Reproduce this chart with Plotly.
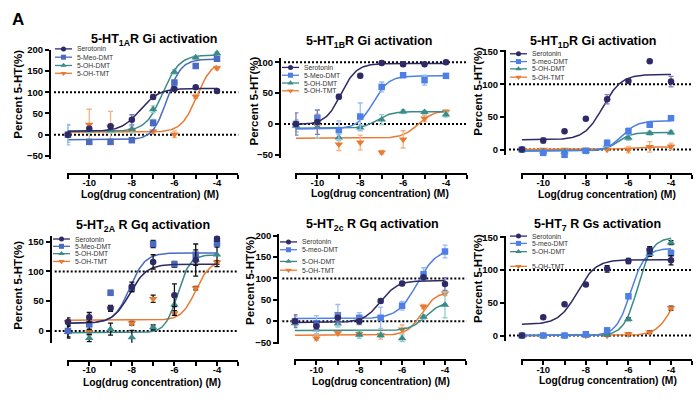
import numpy as np
import plotly.graph_objects as go

W, H = 700, 399
FONT = "Liberation Sans, Arial, sans-serif"

LOG_X = [-11, -10, -9, -8, -7, -6, -5, -4]
X_TICKS = [-10, -8, -6, -4]
X_TICK_LABELS = ["-10", "-8", "-6", "-4"]
X_MINOR_TICKS = [-11, -9, -7, -5, -3]

TITLES = [
    "5-HT<sub>1A</sub>R Gi activation",
    "5-HT<sub>1B</sub>R Gi activation",
    "5-HT<sub>1D</sub>R Gi activation",
    "5-HT<sub>2A</sub> R Gq activation",
    "5-HT<sub>2c</sub> R Gq activation",
    "5-HT<sub>7</sub> R Gs activation",
]
LEGEND_NAMES_A = ["Serotonin", "5-Meo-DMT", "5-OH-DMT", "5-OH-TMT"]
LEGEND_NAMES_B = ["Serotonin", "5-meo-DMT", "5-OH-DMT", "5-OH-TMT"]

# ---- values (% of 5-HT) at LOG_X, order: Serotonin, 5-MeO-DMT, 5-OH-DMT, 5-OH-TMT
P1_VAL = [[0, 14, 20, 35, 89, 108, 112, 103],
          [0, -17, -17, -13, 28, 123, 162, 179],
          [2, 10, 10, 13, 60, 148, 182, 192],
          [0, 24, 18, 10, 8, 1, 90, 157]]
P1_ERR = [[5, 5, 4, 12, 5, 3, 3, 3],
          [24, 5, 3, 4, 8, 5, 4, 3],
          [20, 6, 5, 8, 8, 5, 4, 3],
          [5, 36, 37, 5, 4, 8, 5, 4]]
P1_FIT = [[8, 109, -7.6, 1.0], [-12, 178, -6.35, 1.3], [8, 188, -6.55, 1.1], [6, 175, -4.95, 1.2]]

P2_VAL = [[0, 3, 44, 78, 99, 97, 97, 100],
          [0, 10, -10, 12, 60, 79, 71, 78],
          [-3, -5, -22, -6, 7, 20, 19, 15],
          [-2, -3, -33, -30, -46, -25, 9, 20]]
P2_ERR = [[18, 20, 4, 3, 3, 3, 3, 3],
          [3, 12, 15, 22, 8, 3, 8, 3],
          [10, 18, 5, 5, 8, 3, 3, 4],
          [5, 19, 10, 12, 3, 14, 5, 3]]
P2_FIT = [[-1, 98, -8.9, 1.2], [-8, 78, -7.4, 1.2], [-7, 20, -7.2, 1.3], [-23, 22, -5.3, 1.2]]

P3_VAL = [[0, 14, 28, 47, 77, 105, 135, 104],
          [0, -5, -8, -2, 10, 28, 38, 48],
          [0, -3, -3, -2, 7, 18, 25, 26],
          [0, 0, 0, 0, 0, 0, 4, 5]]
P3_ERR = [[2, 4, 2, 2, 7, 3, 2, 8],
          [2, 2, 3, 2, 5, 5, 3, 3],
          [2, 2, 2, 2, 3, 4, 3, 3],
          [1, 1, 1, 1, 1, 5, 8, 5]]
P3_FIT = [[15, 115, -7.2, 1.0], [-2, 44, -6.3, 1.2], [-2, 26, -6.5, 1.4], [0, 4, -6.0, 1.0]]

P4_VAL = [[15, 23, 38, 74, 116, 60, 119, 155],
          [0, 11, 64, 72, 146, 112, 128, 147],
          [-2, -12, 3, -11, 6, 44, 120, 128],
          [15, -2, 38, 13, 54, 30, 72, 115]]
P4_ERR = [[7, 8, 5, 8, 12, 19, 27, 4],
          [10, 8, 4, 6, 6, 5, 8, 6],
          [10, 6, 10, 12, 4, 18, 10, 20],
          [3, 4, 3, 3, 6, 4, 3, 3]]
P4_FIT = [[13, 112, -8.1, 1.1], [13, 131, -8.1, 1.2], [-3, 128, -5.85, 1.5], [18, 118, -5.0, 1.3]]

P5_VAL = [[0, -12, 8, 0, 47, 88, 103, 87],
          [0, -5, 14, 8, 8, 36, 110, 163],
          [-5, -19, -6, -32, -33, -40, 10, 38],
          [-3, -40, -28, -30, -32, -19, 34, 65]]
P5_ERR = [[15, 8, 10, 8, 5, 5, 3, 15],
          [12, 18, 25, 12, 25, 10, 15, 15],
          [5, 10, 8, 8, 5, 8, 5, 30],
          [5, 5, 5, 5, 10, 10, 5, 5]]
P5_FIT = [[-3, 95, -7.0, 1.1], [6, 170, -5.3, 0.95], [-22, 45, -4.9, 1.2], [-33, 68, -5.1, 1.3]]

P6_VAL = [[0, 28, 48, 78, 102, 114, 131, 115],
          [0, 0, 0, 2, 8, 60, 129, 126],
          [0, 0, 0, 0, 1, 25, 125, 142],
          [0, 0, 0, 0, 0, 2, 5, 42]]
P6_ERR = [[1, 2, 2, 2, 5, 4, 5, 7],
          [1, 1, 1, 1, 2, 3, 4, 4],
          [1, 1, 1, 1, 1, 2, 4, 3],
          [1, 1, 1, 1, 1, 2, 2, 3]]
P6_FIT = [[17, 116, -8.4, 1.0], [0, 133, -5.9, 1.3], [0, 150, -5.55, 1.3], [0, 100, -3.84, 1.1]]

Y_TICKS = [[-50, 0, 50, 100, 150, 200], [-50, 0, 50, 100], [0, 50, 100, 150],
           [0, 50, 100, 150], [-50, 0, 50, 100, 150, 200], [0, 50, 100, 150]]
Y_RANGES = [[-57, 200], [-55, 107], [-9, 152], [-20, 159], [-53, 203], [-8, 152]]

# ---- styling / layout (pixels)
NAVY = "#2e2a66"
BLUE_A = "#4a6bbf"
BLUE_B = "#4d7fe6"
TEAL = "#3a8a88"
ORANGE = "#e97a30"
LIGHT = ["#807cb5", "#9dbdf0", "#93cfcb", "#f3b386"]
DARK_ERR = "#111111"
SYMBOLS = ["circle", "square", "triangle-up", "triangle-down"]

GEOM = [  # xdom px, ytop px, ybot px, yaxis x px, xaxis y px
    dict(xd=(66.9, 238.3), yt=45.0, yb=156.8, ya=50.0, xa=172.0),
    dict(xd=(294.9, 467.4), yt=53.3, yb=155.8, ya=280.0, xa=172.0),
    dict(xd=(520.9, 692.3), yt=45.3, yb=153.3, ya=505.0, xa=172.0),
    dict(xd=(66.9, 238.3), yt=236.2, yb=345.5, ya=50.7, xa=364.0),
    dict(xd=(293.9, 466.4), yt=234.3, yb=346.5, ya=278.3, xa=363.5),
    dict(xd=(520.9, 692.3), yt=236.0, yb=343.4, ya=505.0, xa=363.5),
]
TITLE_POS = [(154, 35), (369, 37), (593, 37), (143, 226), (373, 225), (597, 225)]
YTITLE_POS = [(18, 91), (254, 98), (478, 88), (18, 287), (250, 282), (478, 280)]
XTITLE_POS = [(150, 193.5), (380, 192.5), (607, 193.5), (152, 386), (381, 385), (608, 384.5)]
LEGEND_POS = [  # line x start, rows y
    (55, [44, 52.5, 61, 69]),
    (282, [63, 71, 79, 87]),
    (510, [49, 57, 64.5, 73]),
    (53, [239, 246.5, 254, 262]),
    (280, [242, 250, 262, 271]),
    (510, [236, 243.5, 252, 267]),
]

PANELS = [
    (P1_VAL, P1_ERR, P1_FIT, BLUE_A, LEGEND_NAMES_A, True),
    (P2_VAL, P2_ERR, P2_FIT, BLUE_B, LEGEND_NAMES_A, True),
    (P3_VAL, P3_ERR, P3_FIT, BLUE_B, LEGEND_NAMES_B, True),
    (P4_VAL, P4_ERR, P4_FIT, BLUE_A, LEGEND_NAMES_A, False),
    (P5_VAL, P5_ERR, P5_FIT, BLUE_B, LEGEND_NAMES_B, True),
    (P6_VAL, P6_ERR, P6_FIT, BLUE_B, LEGEND_NAMES_B, False),
]


def four_pl(x, p):
    bottom, top, logec50, hill = p
    return bottom + (top - bottom) / (1 + 10 ** (hill * (logec50 - x)))


def fx(p):
    return p / W


def fy(p):
    return 1 - p / H


fig = go.Figure()
layout = dict(
    width=W, height=H, margin=dict(l=0, r=0, t=0, b=0),
    paper_bgcolor="white", plot_bgcolor="rgba(0,0,0,0)",
    showlegend=False, font=dict(family=FONT, color="black"),
)
annotations = []
shapes = []
xfit = np.linspace(-11, -4, 141)

for i, (vals, errs, fits, blue, names, light) in enumerate(PANELS):
    n = i + 1
    sx = "x" if n == 1 else f"x{n}"
    sy = "y" if n == 1 else f"y{n}"
    g = GEOM[i]
    colors = [NAVY, blue, TEAL, ORANGE]
    layout["xaxis" if n == 1 else f"xaxis{n}"] = dict(
        domain=[fx(g["xd"][0]), fx(g["xd"][1])], range=[-11.05, -3.0],
        anchor="free", position=fy(g["xa"]),
        tickmode="array", tickvals=X_TICKS, ticktext=X_TICK_LABELS,
        ticks="outside", ticklen=4, tickwidth=2, tickcolor="black",
        ticklabelstandoff=-4,
        minor=dict(tickmode="array", tickvals=X_MINOR_TICKS, ticks="outside",
                   ticklen=4, tickwidth=2, tickcolor="black", showgrid=False),
        showline=True, linewidth=2, linecolor="black",
        showgrid=False, zeroline=False,
        tickfont=dict(size=9.5, family=FONT, weight="bold", color="black"),
    )
    layout["yaxis" if n == 1 else f"yaxis{n}"] = dict(
        domain=[fy(g["yb"]), fy(g["yt"])], range=Y_RANGES[i],
        anchor="free", position=fx(g["ya"]),
        tickmode="array", tickvals=Y_TICKS[i],
        ticks="outside", ticklen=4, tickwidth=2, tickcolor="black",
        showline=True, linewidth=2, linecolor="black",
        showgrid=False, zeroline=False,
        tickfont=dict(size=9.5, family=FONT, weight="bold", color="black"),
    )
    # dotted reference lines at 0 % and 100 %
    for yv in (0, 100):
        shapes.append(dict(type="line", xref="paper", yref=sy,
                           x0=fx(g["ya"] + 4), x1=fx(g["xd"][1]), y0=yv, y1=yv,
                           layer="below",
                           line=dict(color="black", width=2, dash="2px,2px")))
    # series (drawn last-first so Serotonin is on top)
    for k in [3, 2, 1, 0]:
        c = colors[k]
        ecol = LIGHT[k] if light else DARK_ERR
        fig.add_trace(go.Scatter(
            x=xfit, y=four_pl(xfit, fits[k]), mode="lines",
            line=dict(color=c, width=1.5), xaxis=sx, yaxis=sy, hoverinfo="skip"))
        fig.add_trace(go.Scatter(
            x=LOG_X, y=vals[k], mode="markers", xaxis=sx, yaxis=sy,
            marker=dict(symbol=SYMBOLS[k], color=c, size=6.5 if k < 2 else 7.5,
                        line=dict(width=0)),
            error_y=dict(type="data", array=errs[k], color=ecol, thickness=1.3, width=2.5),
            cliponaxis=False, name=names[k]))
    # titles
    tx, ty = TITLE_POS[i]
    annotations.append(dict(x=fx(tx), y=fy(ty), xref="paper", yref="paper",
                            text=f"<b>{TITLES[i]}</b>", showarrow=False,
                            xanchor="center", yanchor="middle",
                            font=dict(size=12.5, family=FONT, color="black")))
    yx, yy = YTITLE_POS[i]
    annotations.append(dict(x=fx(yx), y=fy(yy), xref="paper", yref="paper",
                            text="<b>Percent 5-HT(%)</b>", showarrow=False, textangle=-90,
                            xanchor="center", yanchor="middle",
                            font=dict(size=11.5, family=FONT, color="black")))
    xx, xy = XTITLE_POS[i]
    annotations.append(dict(x=fx(xx), y=fy(xy), xref="paper", yref="paper",
                            text="<b>Log(drug concentration) (M)</b>", showarrow=False,
                            xanchor="center", yanchor="middle",
                            font=dict(size=10.3, family=FONT, color="black")))
    # legend (drawn on a pixel overlay axis)
    lx, rows = LEGEND_POS[i]
    for k in range(4):
        c = colors[k]
        fig.add_trace(go.Scatter(
            x=[lx, lx + 17], y=[rows[k], rows[k]], mode="lines",
            line=dict(color=c, width=1.3), xaxis="x7", yaxis="y7", hoverinfo="skip"))
        fig.add_trace(go.Scatter(
            x=[lx + 8.5], y=[rows[k]], mode="markers",
            marker=dict(symbol=SYMBOLS[k], color=c, size=5 if k < 2 else 5.5),
            xaxis="x7", yaxis="y7", hoverinfo="skip"))
        annotations.append(dict(x=fx(lx + 20), y=fy(rows[k]), xref="paper", yref="paper",
                                text=names[k], showarrow=False,
                                xanchor="left", yanchor="middle",
                                font=dict(size=6.8, family=FONT, color="#333333")))

layout["xaxis7"] = dict(domain=[0, 1], range=[0, W], visible=False, anchor="y7", fixedrange=True)
layout["yaxis7"] = dict(domain=[0, 1], range=[H, 0], visible=False, anchor="x7", fixedrange=True)

annotations.append(dict(x=fx(18), y=fy(14), xref="paper", yref="paper", text="<b>A</b>",
                        showarrow=False, xanchor="center", yanchor="middle",
                        font=dict(size=17, family=FONT, color="black")))

layout["annotations"] = annotations
layout["shapes"] = shapes
fig.update_layout(**layout)
fig.write_html("out.html", config={"displayModeBar": False},
               post_script="document.body.style.margin='0px';document.body.style.overflow='hidden';")
